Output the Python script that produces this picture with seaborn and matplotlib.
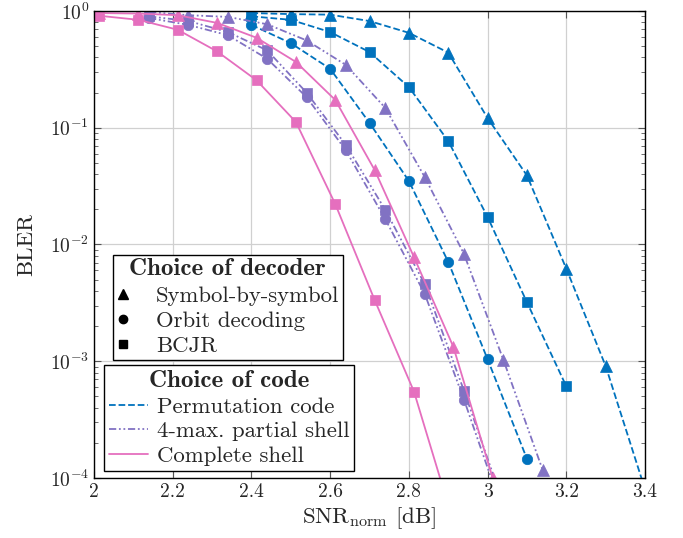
import matplotlib
matplotlib.use("Agg")
import matplotlib.pyplot as plt
from matplotlib.lines import Line2D
from matplotlib.font_manager import FontProperties
import seaborn as sns

# SNR_norm grid of each code (dB)
snr_perm = [2.40, 2.50, 2.60, 2.70, 2.80, 2.90, 3.00, 3.10, 3.20, 3.30, 3.40]
snr_part = [2.14, 2.24, 2.34, 2.44, 2.54, 2.64, 2.74, 2.84, 2.94, 3.04, 3.14]
snr_full = [2.013, 2.113, 2.213, 2.313, 2.413, 2.513, 2.613, 2.713, 2.813, 2.913, 3.013]

# permutation code
perm_sbs = [0.96, 0.94, 0.93, 0.82, 0.65, 0.44, 0.121, 0.039, 0.0062, 0.00091, 0.00008]
perm_orbit = [0.76, 0.53, 0.32, 0.11, 0.035, 0.0071, 0.00104, 0.000146]
perm_bcjr = [0.90, 0.84, 0.66, 0.445, 0.223, 0.077, 0.0172, 0.0032, 0.00061]

# 4-max. partial shell
part_sbs = [0.98, 0.92, 0.89, 0.77, 0.56, 0.345, 0.148, 0.038, 0.0083, 0.00103, 0.000117]
part_orbit = [0.87, 0.76, 0.62, 0.39, 0.183, 0.064, 0.0165, 0.0038, 0.00047, 0.00005]
part_bcjr = [0.90, 0.82, 0.66, 0.46, 0.20, 0.071, 0.0198, 0.0046, 0.00056, 0.00006]

# complete shell
full_sbs = [0.96, 0.95, 0.92, 0.79, 0.59, 0.366, 0.173, 0.0435, 0.0078, 0.00133, 0.000100]
full_bcjr = [0.91, 0.84, 0.69, 0.45, 0.255, 0.112, 0.0222, 0.00335, 0.00055, 0.000042]

decoder_labels = ["Symbol-by-symbol", "Orbit decoding", "BCJR"]
code_labels = ["Permutation code", "4-max. partial shell", "Complete shell"]

blue = "#0072BD"
purple = "#8172C3"
pink = "#E56FBE"
dashdotdot = (0, (4, 1.5, 1, 1.5, 1, 1.5))

sns.set_style("ticks")
plt.rcParams["font.family"] = ["cmr10", "DejaVu Serif"]
plt.rcParams["mathtext.fontset"] = "cm"
plt.rcParams["axes.formatter.use_mathtext"] = True

fig = plt.figure(figsize=(6.83, 5.38), dpi=100)
ax = fig.add_axes([0.1376, 0.1115, 0.9444 - 0.1376, 0.9796 - 0.1115])

series = [
    (snr_perm, perm_sbs, blue, "--", "^", 9),
    (snr_perm, perm_bcjr, blue, "--", "s", 7),
    (snr_perm, perm_orbit, blue, "--", "o", 7.5),
    (snr_part, part_sbs, purple, dashdotdot, "^", 9),
    (snr_part, part_bcjr, purple, dashdotdot, "s", 7),
    (snr_part, part_orbit, purple, dashdotdot, "o", 7.5),
    (snr_full, full_bcjr, pink, "-", "s", 7),
    (snr_full, full_sbs, pink, "-", "^", 9),
]
for xs, ys, col, ls, mk, ms in series:
    sns.lineplot(x=xs[:len(ys)], y=ys, ax=ax, color=col, linestyle=ls,
                 linewidth=1.3, marker=mk, markersize=ms,
                 markeredgecolor=col, markeredgewidth=0.5,
                 sort=False, estimator=None)

ax.set_yscale("log")
ax.set_xlim(2, 3.4)
ax.set_ylim(1e-4, 1)
ax.set_xticks([2, 2.2, 2.4, 2.6, 2.8, 3.0, 3.2, 3.4])
ax.set_xticklabels(["2", "2.2", "2.4", "2.6", "2.8", "3", "3.2", "3.4"])
ax.grid(True, which="major", color="#d0d0d0", linewidth=0.9)
ax.tick_params(which="both", direction="in", top=True, right=True,
               labelsize=14, color="#555555")
ax.tick_params(which="major", length=5)
ax.tick_params(which="minor", length=3)
for sp in ax.spines.values():
    sp.set_color("black")
    sp.set_linewidth(1.0)

ax.set_xlabel(r"SNR$_{\mathrm{norm}}$ [dB]", fontsize=16.5, labelpad=3)
ax.set_ylabel("BLER", fontsize=16.5, labelpad=10)

title_fp = FontProperties(family="cmb10", size=18)

dec_handles = [Line2D([], [], color="black", linestyle="none", marker=m, markersize=s)
               for m, s in [("^", 7.5), ("o", 6), ("s", 6)]]
leg1 = ax.legend(dec_handles, decoder_labels, title="Choice of decoder",
                 title_fontproperties=title_fp, loc="upper left",
                 bbox_to_anchor=(0.034, 0.478), fontsize=16.4, frameon=True,
                 fancybox=False, edgecolor="black", framealpha=1,
                 handlelength=0.6, handletextpad=1.15, borderpad=0.15,
                 labelspacing=0.24, borderaxespad=0)
leg1.get_frame().set_linewidth(1.0)
ax.add_artist(leg1)

code_handles = [Line2D([], [], color=blue, linestyle="--", linewidth=1.3),
                Line2D([], [], color=purple, linestyle=dashdotdot, linewidth=1.3),
                Line2D([], [], color=pink, linestyle="-", linewidth=1.3)]
leg2 = ax.legend(code_handles, code_labels, title="Choice of code",
                 title_fontproperties=title_fp, loc="upper left",
                 bbox_to_anchor=(0.018, 0.242), fontsize=16.4, frameon=True,
                 fancybox=False, edgecolor="black", framealpha=1,
                 handlelength=1.7, handletextpad=0.4, borderpad=0.22,
                 labelspacing=0.2, borderaxespad=0)
leg2.get_frame().set_linewidth(1.0)

fig.savefig("out.png", dpi=100)
